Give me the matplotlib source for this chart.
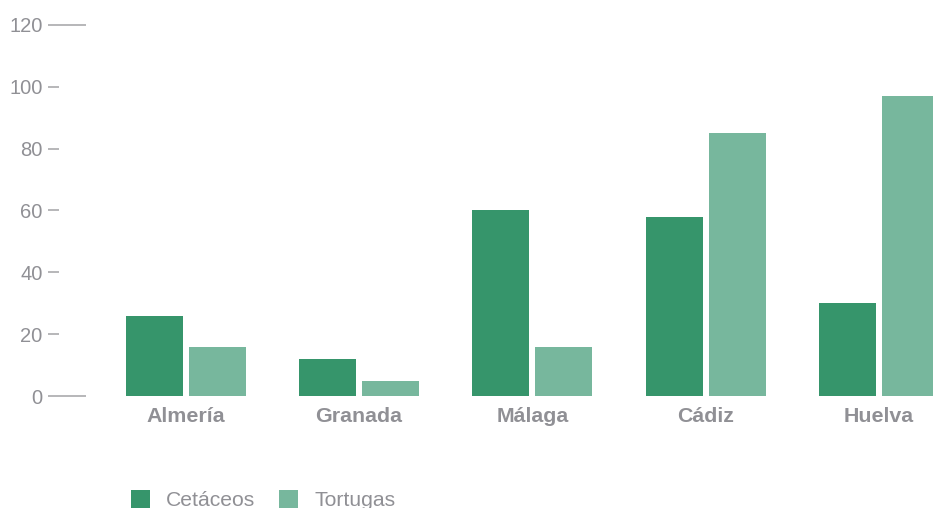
import matplotlib.pyplot as plt
import numpy as np
from matplotlib.ticker import FixedLocator

# Data
provincias = ["Almería", "Granada", "Málaga", "Cádiz", "Huelva"]
cetaceos = [26, 12, 60, 58, 30]
tortugas = [16, 5, 16, 85, 97]
series_names = ["Cetáceos", "Tortugas"]

plt.rcParams["font.family"] = ["Liberation Sans", "DejaVu Sans"]
grey_text = "#909095"
grey_line = "#a3a3a6"
c_cet = "#36956b"
c_tor = "#77b79d"

fig = plt.figure(figsize=(9.33, 5.08), dpi=100)
ax = fig.add_axes([48 / 933, 112 / 508, 885 / 933, 371 / 508])

x = np.arange(len(provincias))
w = 0.329
off = 0.182
ax.bar(x - off, cetaceos, width=w, color=c_cet, label=series_names[0])
ax.bar(x + off, tortugas, width=w, color=c_tor, label=series_names[1])

ax.set_xlim(-0.795, -0.795 + 885 / 173.3)
ax.set_ylim(0, 120)

for s in ax.spines.values():
    s.set_visible(False)

# long ticks at 0 and 120, short ones in between
ax.yaxis.set_major_locator(FixedLocator([0, 120]))
ax.yaxis.set_minor_locator(FixedLocator([20, 40, 60, 80, 100]))
ax.tick_params(axis="y", which="major", direction="in", length=27, width=1.1,
               color=grey_line, labelsize=14.5, labelcolor=grey_text, pad=4)
ax.tick_params(axis="y", which="minor", direction="in", length=8, width=1.1,
               color=grey_line, labelsize=14.5, labelcolor=grey_text, pad=4)
ax.yaxis.set_minor_formatter(plt.FuncFormatter(lambda v, p: f"{v:.0f}"))

ax.set_xticks(x)
ax.set_xticklabels(provincias, fontsize=15.4, fontweight="bold", color=grey_text)
ax.tick_params(axis="x", length=0, pad=8)

fig.legend(loc="center left", bbox_to_anchor=(131 / 933, 8 / 508), ncol=2,
           frameon=False, fontsize=15.2, handlelength=0.9, handleheight=0.9,
           handletextpad=0.75, columnspacing=1.15, borderpad=0, borderaxespad=0,
           labelcolor=grey_text)

fig.savefig("out.png", dpi=100)
